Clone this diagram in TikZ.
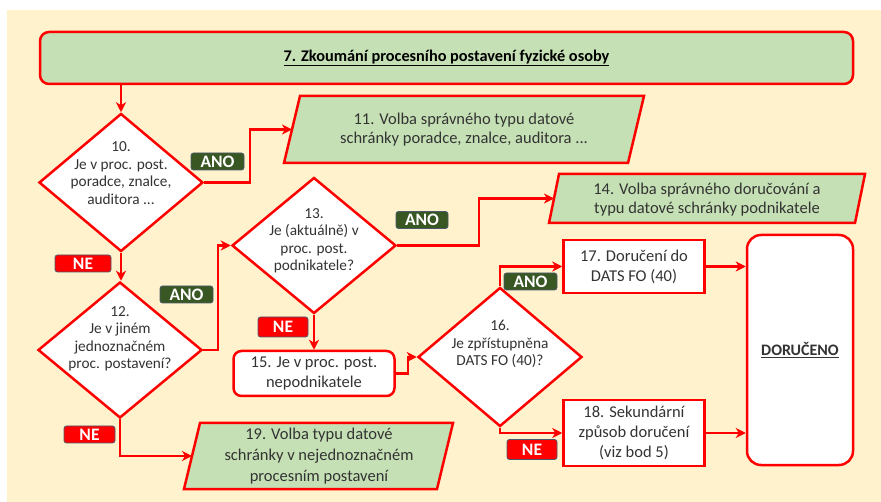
\documentclass[tikz,border=0pt]{standalone}
\usepackage{fontspec}
\setmainfont{Carlito}
\usetikzlibrary{shapes.geometric,arrows.meta,calc}
\definecolor{cream}{HTML}{FFF2CC}
\definecolor{pgreen}{HTML}{C5E0B4}
\definecolor{fred}{HTML}{FF0000}
\definecolor{lgreen}{HTML}{385723}
\definecolor{lborder}{HTML}{4A5A6E}
\definecolor{txt}{HTML}{333333}
\begin{document}
\begin{tikzpicture}[x=1pt,y=-1pt,
  shp/.style={draw=fred,line width=2.5pt},
  dia/.style={shp,shape=diamond,fill=white,minimum width=164,minimum height=138,inner sep=0},
  dtext/.style={align=center,text=txt,font=\fontsize{15.3}{17.5}\selectfont,inner sep=0},
  rbox/.style={shp,rectangle,fill=white,align=center,text=txt,font=\fontsize{16.5}{20}\selectfont,inner sep=0},
  pbox/.style={rectangle,draw=none,inner sep=0,outer sep=0},
  pshape/.style={shp,fill=pgreen,line join=miter},
  ptext/.style={align=center,text=txt,font=\fontsize{16.5}{19}\selectfont,inner sep=0},
  lab/.style={rectangle,rounded corners=2.5pt,draw=lborder,line width=0.8pt,text=white,
    font=\bfseries\fontsize{17.5}{18}\selectfont,inner sep=0,minimum height=17},
  lano/.style={lab,fill=lgreen,minimum width=53},
  lne/.style={lab,fill=fred,minimum width=52},
  arr/.style={draw=fred,line width=2.2pt,-{Stealth[length=10pt,width=10pt,inset=3pt]}}
]
\useasboundingbox (0,0) rectangle (881,502);
\fill[white] (0,0) rectangle (881,502);
\fill[cream] (7,10) rectangle (881,502);

% top box
\node[shp,rectangle,rounded corners=9pt,fill=pgreen,minimum width=813,minimum height=52,inner sep=0,
  font=\bfseries\fontsize{16.3}{18}\selectfont] (t7) at (446.5,58)
  {\underline{7. Zkoumání procesního postavení fyzické osoby}};

% diamonds
\node[dia] (d10) at (121,182.5) {};
\node[dtext] (d10t) at (121,173) {10.\\Je v proc. post.\\poradce, znalce,\\auditora ...};
\node[dia,minimum height=136] (d12) at (120,350) {};
\node[dtext] (d12t) at (120,339) {12.\\Je v jiném\\jednoznačném\\proc. postavení?};
\node[dia,minimum height=136] (d13) at (314,245.5) {};
\node[dtext] (d13t) at (314,241) {13.\\Je (aktuálně) v\\proc. post.\\podnikatele?};
\node[dia,minimum height=139] (d16) at (500,357) {};
\node[dtext] (d16t) at (500,344) {16.\\Je zpřístupněna\\DATS FO (40)?};

% boxes
\node[rbox,rounded corners=8pt,minimum width=161,minimum height=45] (b15) at (314,373.5)
  {15. Je v proc. post.\\nepodnikatele};
\node[rbox,minimum width=141,minimum height=53] (b17) at (634,266.5)
  {17. Doručení do\\DATS FO (40)};
\node[rbox,minimum width=141,minimum height=66] (b18) at (634,433)
  {18. Sekundární\\způsob doručení\\(viz bod 5)};
\node[shp,rectangle,rounded corners=14pt,fill=white,minimum width=106,minimum height=230,inner sep=0,
  text=txt,font=\bfseries\fontsize{16}{18}\selectfont] (dor) at (800,350) {\underline{DORUČENO}};

% parallelograms
\node[pbox,minimum width=344,minimum height=67] (p11) at (464,129.5) {};
\draw[pshape] ([xshift=8pt]p11.north west) -- ([xshift=8pt]p11.north east)
  -- ([xshift=-8pt]p11.south east) -- ([xshift=-8pt]p11.south west) -- cycle;
\node[ptext] (p11t) at (464,130) {11. Volba správného typu datové\\schránky poradce, znalce, auditora ...};

\node[pbox,minimum width=306,minimum height=49] (p14) at (707,198.5) {};
\draw[pshape] ([xshift=5pt]p14.north west) -- ([xshift=5pt]p14.north east)
  -- ([xshift=-5pt]p14.south east) -- ([xshift=-5pt]p14.south west) -- cycle;
\node[ptext] (p14t) at (707,200) {14. Volba správného doručování a\\typu datové schránky podnikatele};

\node[pbox,minimum width=253,minimum height=66] (p19) at (318.5,456) {};
\draw[pshape] ([xshift=8pt]p19.north west) -- ([xshift=8pt]p19.north east)
  -- ([xshift=-8pt]p19.south east) -- ([xshift=-8pt]p19.south west) -- cycle;
\node[ptext,font=\fontsize{16.5}{21}\selectfont] (p19t) at (319,456) {19. Volba typu datové\\schránky v nejednoznačném\\procesním postavení};

% connectors
\draw[arr] (t7.south -| d10.north) -- (d10.north);
\draw[arr] (d10.east) -- ++(46,0) |- (p11.west);
\draw[arr] (d10.south) -- (d10.south |- d12.north);
\draw[arr] (d12.east) -- ++(15,0) |- (d13.west);
\draw[arr] (d13.east) -- ++(82,0) |- (p14.west);
\draw[arr] (d13.south) -- (d13.south |- b15.north);
\draw[arr] (b15.east) -- ++(12,0) |- (d16.west);
\draw[arr] (d16.north) |- (b17.west);
\draw[arr] (d16.south) |- (b18.west);
\draw[arr] (b17.east) -- (b17.east -| dor.west);
\draw[arr] (b18.east) -- (b18.east -| dor.west);
\draw[arr] (d12.south) |- (p19.west);

% labels
\node[lano] (l10) at (217.5,161.5) {ANO};
\node[lne,minimum width=56] (n10) at (83,263.5) {NE};
\node[lano] (l12) at (186.5,294.5) {ANO};
\node[lne,minimum width=51] (n12) at (89.5,434.5) {NE};
\node[lano,minimum width=52] (l13) at (422,220) {ANO};
\node[lne,minimum width=50,minimum height=20] (n13) at (283,327) {NE};
\node[lano] (l16) at (530.5,281.5) {ANO};
\node[lne,minimum width=50,minimum height=20] (n16) at (532,449.5) {NE};
\end{tikzpicture}
\end{document}
